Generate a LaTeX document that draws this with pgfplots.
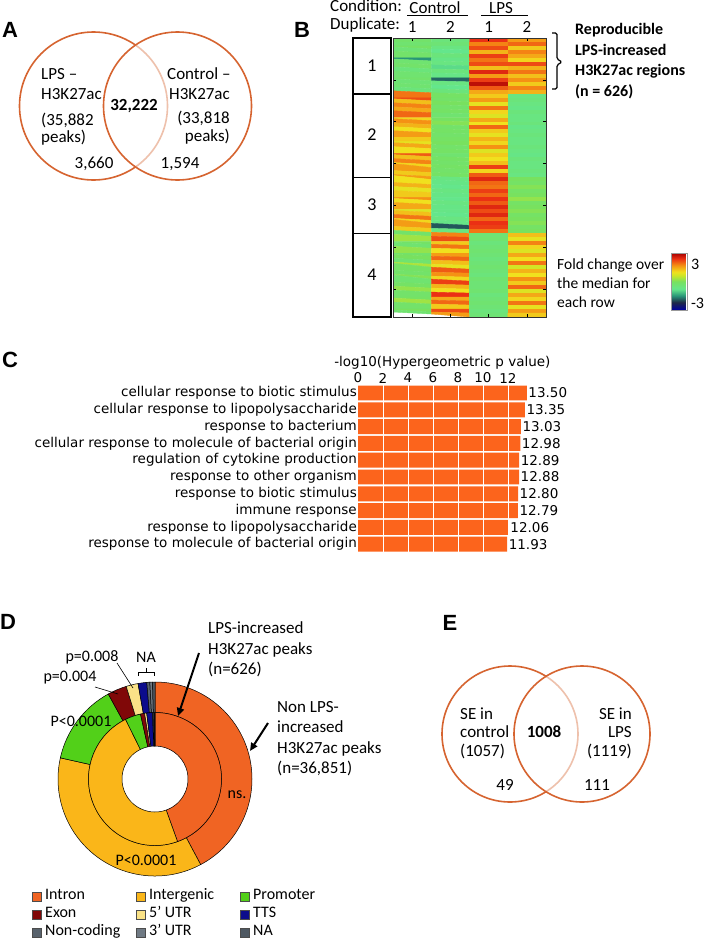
\documentclass[border=0pt]{standalone}
\usepackage{fontspec}
\setmainfont{Carlito}
\newfontfamily\dejavu{DejaVu Sans}
\newfontfamily\arialf{Liberation Sans}
\usepackage{pgfplots}
\pgfplotsset{compat=1.18}
\usetikzlibrary{arrows.meta}

\definecolor{venn}{RGB}{214,100,48}
\definecolor{barc}{RGB}{252,100,28}
\definecolor{intron}{RGB}{240,100,35}
\definecolor{intergenic}{RGB}{250,182,25}
\definecolor{promoter}{RGB}{82,208,25}
\definecolor{exon}{RGB}{128,8,8}
\definecolor{utrfive}{RGB}{250,226,135}
\definecolor{tts}{RGB}{12,12,140}
\definecolor{noncoding}{RGB}{88,98,108}
\definecolor{utrthree}{RGB}{112,122,132}
\definecolor{nacol}{RGB}{78,88,98}

\pgfplotsset{colormap={hm}{rgb255(0cm)=(0,0,160); rgb255(0.8cm)=(30,40,70); rgb255(1.5cm)=(40,150,120); rgb255(2.2cm)=(100,230,140); rgb255(3cm)=(120,225,95); rgb255(3.6cm)=(200,230,40); rgb255(4cm)=(240,225,30); rgb255(4.7cm)=(245,145,20); rgb255(5.4cm)=(235,48,20); rgb255(6cm)=(165,0,0)}}

\newcommand\fs[1]{\fontsize{#1}{#1}\selectfont}
\newcommand\panel[1]{{\arialf\bfseries\fs{22}#1}}

% donut data: percent/colour, clockwise from 12 o'clock
\def\outerdata{42.2/intron,36.3/intergenic,13.5/promoter,3.2/exon,2.0/utrfive,1.45/tts,0.5/noncoding,0.45/utrthree,0.4/nacol}
\def\innerdata{44.5/intron,48.2/intergenic,3.8/promoter,1.0/exon,0.5/utrfive,1.4/tts,0.3/noncoding,0.2/utrthree,0.1/nacol}
\newcommand\ring[3]{%
  \gdef\acc{0}%
  \foreach \v/\c in #1 {%
    \pgfmathsetmacro\sa{90-\acc*3.6}%
    \pgfmathsetmacro\ea{90-(\acc+\v)*3.6}%
    \filldraw[fill=\c, draw=black, line width=0.5pt] (\sa:#3) arc[start angle=\sa, end angle=\ea, radius=#3] -- (\ea:#2) arc[start angle=\ea, end angle=\sa, radius=#2] -- cycle;
    \pgfmathsetmacro\tmp{\acc+\v}%
    \global\let\acc\tmp
  }}

\begin{document}
\begin{tikzpicture}[x=1pt,y=1pt]
\useasboundingbox (0,0) rectangle (708,-940);
\fill[white] (0,0) rectangle (708,-940);

% ---------------- Panel A ----------------
\node at (10,-30) {\panel{A}};
\draw[venn, line width=1.6pt] (93.5,-106) circle[radius=74];
\fill[white, opacity=0.6] (177.5,-106) circle[radius=74];
\draw[venn, line width=1.6pt] (177.5,-106) circle[radius=74];
\begin{scope}[every node/.style={inner sep=0pt, font=\fs{17}}]
\node[anchor=mid west] at (41,-77) {LPS --};
\node[anchor=mid west] at (41,-97) {H3K27ac};
\node[anchor=mid west] at (41,-123) {(35,882};
\node[anchor=mid west] at (41,-140) {peaks)};
\node at (134,-106) {\bfseries 32,222};
\node[anchor=mid west] at (167,-77) {Control --};
\node[anchor=mid west] at (169,-97) {H3K27ac};
\node[anchor=mid east] at (230,-121) {(33,818};
\node[anchor=mid east] at (230,-139) {peaks)};
\node at (94,-164) {3,660};
\node at (180,-164) {1,594};
\end{scope}

% ---------------- Panel B ----------------
\node at (302,-30) {\panel{B}};
\begin{axis}[name=hmap, at={(393pt,-38pt)}, anchor=north west, scale only axis,
  width=153pt, height=279pt,
  xmin=-0.5, xmax=3.5, ymin=-0.5, ymax=69.5, y dir=reverse, enlargelimits=false,
  colormap name=hm, point meta min=-3, point meta max=3,
  xtick={0,1,2,3}, xticklabels={1,2,1,2}, xticklabel pos=upper,
  xticklabel style={font=\fs{17}, anchor=center, yshift=11pt},
  ytick={10,20.5,31,41.5,52,62.5}, yticklabels={},
  tick align=inside, major tick length=3pt, tick style={black, line width=0.5pt},
  axis line style={black!80, line width=0.6pt}, axis on top,
  colorbar,
  colorbar style={at={(parent axis.north east)}, anchor=north west, xshift=117pt, yshift=-215pt,
    scale only axis, width=16pt, height=57pt, ytick={-2.3,1.8}, yticklabels={-3,3},
    yticklabel style={font=\fs{16}}, major tick length=0pt, axis line style={black!40, line width=0.4pt}}]
\addplot[matrix plot*, mesh/cols=4, point meta=explicit]
 table[header=false, row sep=\\, x expr={mod(\coordindex,4)}, y expr={floor(\coordindex/4)}, meta index=0] {
-0.2\\ -0.5\\ 2.4\\ 1.6\\
-0.3\\ -0.4\\ 1.8\\ 2.0\\
-0.1\\ -0.6\\ 2.2\\ 1.2\\
-0.4\\ -0.8\\ 1.4\\ 1.8\\
-0.2\\ -0.5\\ 2.3\\ 1.5\\
-1.5\\ -0.7\\ 1.9\\ 1.1\\
-0.3\\ -0.6\\ 2.2\\ 2.2\\
-0.2\\ -0.9\\ 1.3\\ 1.4\\
-0.5\\ -0.5\\ 2.5\\ 1.9\\
-0.3\\ -0.7\\ 1.6\\ 1.3\\
-0.2\\ -1.8\\ 2.3\\ 1.7\\
-0.4\\ -0.6\\ 2.8\\ 1.2\\
-0.3\\ -0.8\\ 2.1\\ 1.8\\
-0.5\\ -0.5\\ 1.5\\ 1.4\\
1.9\\ -0.1\\ 1.2\\ -0.6\\
2.2\\ -0.2\\ 1.6\\ -0.5\\
1.3\\ 0.0\\ 0.9\\ -0.6\\
1.8\\ -0.2\\ 1.9\\ -0.7\\
1.5\\ -0.1\\ 1.1\\ -0.5\\
2.0\\ -0.3\\ 0.8\\ -0.6\\
1.1\\ -0.1\\ 1.5\\ -0.6\\
1.7\\ 0.1\\ 1.0\\ -0.5\\
1.4\\ -0.2\\ 2.0\\ -0.7\\
1.0\\ -0.1\\ 1.2\\ -0.6\\
1.6\\ -0.2\\ 0.9\\ -0.5\\
1.2\\ -0.1\\ 1.4\\ -0.6\\
0.9\\ 0.0\\ 1.1\\ -0.6\\
1.5\\ -0.2\\ 1.7\\ -0.5\\
1.0\\ -0.1\\ 0.8\\ -0.6\\
2.1\\ -0.3\\ 1.2\\ -0.7\\
1.3\\ -0.1\\ 1.0\\ -0.5\\
1.8\\ -0.2\\ 1.3\\ -0.6\\
1.1\\ -0.1\\ 2.3\\ -0.6\\
1.6\\ -0.2\\ 1.1\\ -0.5\\
1.2\\ -0.1\\ 2.1\\ -0.6\\
1.6\\ -0.6\\ 2.5\\ 0.0\\
1.0\\ -0.7\\ 2.0\\ -0.1\\
1.4\\ -0.8\\ 1.9\\ 0.1\\
0.9\\ -0.6\\ 2.3\\ -0.1\\
1.2\\ -0.7\\ 2.0\\ 0.0\\
1.7\\ -0.8\\ 2.4\\ 0.2\\
1.0\\ -0.6\\ 2.1\\ -0.1\\
1.5\\ -0.7\\ 2.5\\ 0.0\\
0.8\\ -0.7\\ 2.2\\ 0.1\\
1.3\\ -0.8\\ 2.5\\ -0.1\\
1.9\\ -0.6\\ 2.0\\ 0.0\\
1.1\\ -0.7\\ 2.4\\ 0.1\\
1.6\\ -1.9\\ 2.3\\ -0.1\\
1.2\\ -0.6\\ 1.9\\ 0.0\\
-0.2\\ 1.8\\ -0.4\\ 1.3\\
0.3\\ 2.2\\ -0.3\\ 0.9\\
-0.1\\ 1.2\\ -0.5\\ 1.8\\
-0.3\\ 1.9\\ -0.4\\ 1.1\\
0.2\\ 1.0\\ -0.3\\ 0.8\\
-0.2\\ 1.6\\ -0.4\\ 1.5\\
0.0\\ 2.0\\ -0.5\\ 1.0\\
-0.3\\ 1.3\\ -0.4\\ 1.9\\
0.4\\ 0.9\\ -0.3\\ 0.7\\
-0.1\\ 2.1\\ -0.4\\ 1.4\\
-0.2\\ 1.7\\ -0.5\\ 1.0\\
0.1\\ 1.1\\ -0.3\\ 1.7\\
-0.3\\ 2.3\\ -0.4\\ 1.2\\
-0.1\\ 1.4\\ -0.4\\ 2.0\\
0.2\\ 1.0\\ -0.3\\ 0.8\\
-0.2\\ 2.4\\ -0.5\\ 1.5\\
-0.1\\ 1.5\\ -0.4\\ 1.1\\
0.3\\ 2.0\\ -0.3\\ 1.9\\
-0.2\\ 1.2\\ -0.4\\ 0.9\\
0.0\\ 2.2\\ -0.5\\ 1.6\\
-0.3\\ 1.6\\ -0.4\\ 1.2\\
};
\end{axis}
\begin{scope}[every node/.style={inner sep=0pt, font=\fs{17}}]
\node[anchor=mid west] at (330,-9) {Condition:};
\node[anchor=mid west] at (330,-27) {Duplicate:};
\node at (435,-8) {Control};
\node at (501,-8) {LPS};
\draw[line width=0.8pt] (407,-15.5) -- (468,-15.5);
\draw[line width=0.8pt] (481,-15.5) -- (528,-15.5);
\draw[line width=1.4pt] (353,-38) rectangle (391,-93.8);
\draw[line width=1.4pt] (353,-93.8) rectangle (391,-177.5);
\draw[line width=1.4pt] (353,-177.5) rectangle (391,-233.3);
\draw[line width=1.4pt] (353,-233.3) rectangle (391,-317);
\node at (372,-66) {\fs{18}1};
\node at (372,-135) {\fs{18}2};
\node at (372,-205) {\fs{18}3};
\node at (372,-275) {\fs{18}4};
\draw[line width=1.2pt, rounded corners=1.5pt] (552,-33) -- (557,-33) -- (557,-59) -- (562,-62) -- (557,-65) -- (557,-89) -- (552,-89);
\node[anchor=mid west, font=\fs{16}\bfseries] at (575,-32) {Reproducible};
\node[anchor=mid west, font=\fs{16}\bfseries] at (575,-53) {LPS-increased};
\node[anchor=mid west, font=\fs{16}\bfseries] at (575,-73) {H3K27ac regions};
\node[anchor=mid west, font=\fs{16}\bfseries] at (575,-94) {(n = 626)};
\node[anchor=mid west, font=\fs{15.5}] at (557,-267) {Fold change over};
\node[anchor=mid west, font=\fs{15.5}] at (557,-286) {the median for};
\node[anchor=mid west, font=\fs{15.5}] at (557,-305) {each row};
\end{scope}

% ---------------- Panel C ----------------
\node at (10,-360) {\panel{C}};
\begin{axis}[at={(358pt,-384.6pt)}, anchor=north west, scale only axis,
  width=168.75pt, height=168pt,
  xbar, bar width=0.89, xmin=0, xmax=13.5, ymin=0.5, ymax=10.5, y dir=reverse,
  enlargelimits=false, clip=false,
  ytick={1,...,10},
  yticklabels={cellular response to biotic stimulus, cellular response to lipopolysaccharide, response to bacterium, cellular response to molecule of bacterial origin, regulation of cytokine production, response to other organism, response to biotic stimulus, immune response, response to lipopolysaccharide, response to molecule of bacterial origin},
  yticklabel style={font=\dejavu\fs{13.5}, inner xsep=1pt},
  xtick={0,2,4,6,8,10,12}, xticklabel pos=upper,
  xticklabel style={font=\dejavu\fs{13.5}, anchor=center, yshift=6.6pt},
  /pgf/number format/assume math mode=true,
  axis line style={draw=none}, major tick length=0pt,
  xmajorgrids, grid style={white, line width=1pt}, axis on top,
  nodes near coords={\pgfmathprintnumber[fixed,fixed zerofill,precision=2]{\pgfplotspointmeta}},
  every node near coord/.append style={font=\dejavu\fs{13.5}, anchor=west, inner xsep=1.5pt, black}]
\addplot[fill=barc, draw=none] coordinates {(13.50,1) (13.35,2) (13.03,3) (12.98,4) (12.89,5) (12.88,6) (12.80,7) (12.79,8) (12.06,9) (11.93,10)};
\node[font=\dejavu\fs{13.5}] at (rel axis cs:0.5,1) [yshift=21.6pt] {-log10(Hypergeometric p value)};
\end{axis}

% ---------------- Panel D ----------------
\node at (8,-622) {\panel{D}};
\begin{scope}[shift={(155,-779)}]
\ring{\outerdata}{66.5}{97}
\ring{\innerdata}{33}{66.5}
\end{scope}
\begin{scope}[every node/.style={inner sep=0pt, font=\fs{16}}]
\node at (92,-657) {p=0.008};
\node at (146,-657) {NA};
\draw[line width=0.6pt] (138,-676) -- (138,-672) -- (154,-672) -- (154,-676);
\draw[line width=0.6pt] (146,-672) -- (146,-668);
\node at (70,-678) {p=0.004};
\draw[line width=0.6pt] (117,-663) -- (133,-688);
\draw[line width=0.6pt] (95,-687) -- (118,-694);
\node at (81,-721) {P<0.0001};
\node at (146,-860) {P<0.0001};
\node at (237,-795) {ns.};
\node[anchor=mid west, font=\fs{17}] at (208,-631) {LPS-increased};
\node[anchor=mid west, font=\fs{17}] at (208,-652) {H3K27ac peaks};
\node[anchor=mid west, font=\fs{17}] at (208,-672) {(n=626)};
\node[anchor=mid west, font=\fs{17}] at (277,-710) {Non LPS-};
\node[anchor=mid west, font=\fs{17}] at (277,-730) {increased};
\node[anchor=mid west, font=\fs{17}] at (277,-751) {H3K27ac peaks};
\node[anchor=mid west, font=\fs{17}] at (277,-771) {(n=36,851)};
\draw[line width=2pt, -{Triangle[length=8pt,width=7pt]}] (199,-653) -- (178,-716);
\draw[line width=2pt, -{Triangle[length=8pt,width=7pt]}] (268,-723) -- (250,-751);
% legend
\foreach \c/\t/\x/\y in {intron/Intron/32/897, intergenic/Intergenic/136/897, promoter/Promoter/240/897,
   exon/Exon/32/915, utrfive/5’ UTR/136/915, tts/TTS/240/915,
   noncoding/Non-coding/32/933, utrthree/3’ UTR/136/933, nacol/NA/240/933} {
  \filldraw[fill=\c, draw=black!70, line width=0.5pt] (\x,-\y+4.5) rectangle ++(9,-9);
  \node[anchor=mid west] at (\x+13,-\y) {\t};
}
\end{scope}

% ---------------- Panel E ----------------
\node at (450,-623) {\panel{E}};
\draw[venn, line width=1.6pt] (510,-734) circle[radius=68];
\fill[white, opacity=0.6] (582,-734) circle[radius=68];
\draw[venn, line width=1.6pt] (582,-734) circle[radius=68];
\begin{scope}[every node/.style={inner sep=0pt, font=\fs{17}}]
\node[anchor=mid west] at (460,-717) {SE in};
\node[anchor=mid west] at (460,-735) {control};
\node[anchor=mid west] at (460,-754) {(1057)};
\node at (544,-732) {\bfseries 1008};
\node[anchor=mid east] at (632,-717) {SE in};
\node[anchor=mid east] at (632,-735) {LPS};
\node[anchor=mid east] at (632,-754) {(1119)};
\node at (505,-785) {49};
\node at (597,-785) {111};
\end{scope}
\end{tikzpicture}
\end{document}
